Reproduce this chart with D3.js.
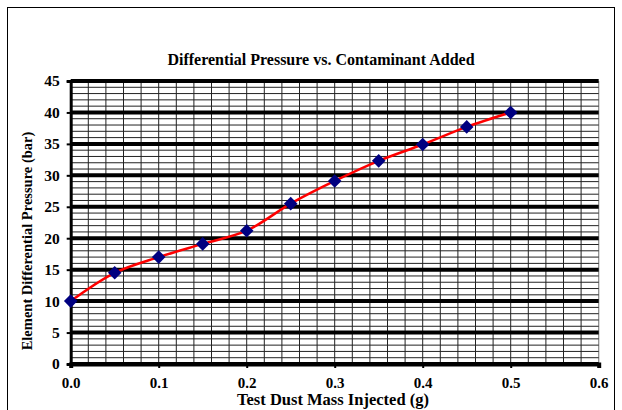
<!DOCTYPE html>
<html><head><meta charset="utf-8">
<script src="https://cdn.jsdelivr.net/npm/d3@7"></script>
<style>body{margin:0;background:#fff}svg{display:block}text{font-family:"Liberation Serif","Times New Roman",serif;font-weight:bold;fill:#000}</style>
</head><body><div id="c"></div>
<script>
const massInjected = [0, 0.05, 0.1, 0.15, 0.2, 0.25, 0.3, 0.35, 0.4, 0.45, 0.5];
const pressure = [10, 14.5, 17, 19.1, 21.2, 25.5, 29.1, 32.3, 34.9, 37.7, 40.0];
const xTicks = [0, 0.1, 0.2, 0.3, 0.4, 0.5, 0.6];
const yTicks = [0, 5, 10, 15, 20, 25, 30, 35, 40, 45];
const title = "Differential Pressure vs. Contaminant Added";
const xTitle = "Test Dust Mass Injected (g)";
const yTitle = "Element Differential Pressure (bar)";

const W = 622, H = 410;
const svg = d3.select("#c").append("svg").attr("width", W).attr("height", H);
svg.append("rect").attr("x", 7.5).attr("y", 7.5).attr("width", 607).attr("height", 420)
  .attr("fill", "#fff").attr("stroke", "#000").attr("stroke-width", 1);

const x = d3.scaleLinear().domain([0, 0.6]).range([70.7, 598.7]);
const y = d3.scaleLinear().domain([0, 45]).range([364, 81]);

const g = svg.append("g");
d3.range(1, 30).map(i => i * 0.02).forEach(v => {
  g.append("line").attr("x1", x(v)).attr("x2", x(v)).attr("y1", y(45)).attr("y2", y(0))
    .attr("stroke", "#222").attr("stroke-width", 1);
});
g.append("line").attr("x1", x(0.6)).attr("x2", x(0.6)).attr("y1", y(45)).attr("y2", y(0))
  .attr("stroke", "#888").attr("stroke-width", 1.2);
d3.range(1, 45).filter(v => v % 5 !== 0).forEach(v => {
  g.append("line").attr("x1", x(0)).attr("x2", x(0.6)).attr("y1", y(v)).attr("y2", y(v))
    .attr("stroke", "#222").attr("stroke-width", 1);
});
yTicks.forEach(v => {
  g.append("line").attr("x1", x(0)).attr("x2", x(0.6)).attr("y1", y(v)).attr("y2", y(v))
    .attr("stroke", "#000").attr("stroke-width", 4);
});
const yAxis = d3.axisLeft(y).tickValues(yTicks).tickSize(4).tickPadding(7).tickFormat(d3.format("d"));
const ya = svg.append("g").attr("transform", `translate(${x(0)},0)`).call(yAxis);
ya.select(".domain").attr("stroke", "#000").attr("stroke-width", 3);
ya.selectAll(".tick line").attr("stroke", "#000").attr("stroke-width", 2);
ya.selectAll("text").attr("font-size", 15.5).attr("font-family", "Liberation Serif").attr("font-weight", "bold").attr("fill", "#000");
const xAxis = d3.axisBottom(x).tickValues(xTicks).tickSize(4).tickPadding(9).tickFormat(d3.format(".1f"));
const xa = svg.append("g").attr("transform", `translate(0,${y(0)})`).call(xAxis);
xa.select(".domain").attr("stroke", "#000").attr("stroke-width", 4);
xa.selectAll(".tick line").attr("stroke", "#000").attr("stroke-width", 2);
xa.selectAll("text").attr("font-size", 15).attr("font-family", "Liberation Serif").attr("font-weight", "bold").attr("fill", "#000");

const data = massInjected.map((m, i) => [m, pressure[i]]);
svg.append("path").datum(data)
  .attr("d", d3.line().x(d => x(d[0])).y(d => y(d[1])).curve(d3.curveCatmullRom.alpha(0.5)))
  .attr("fill", "none").attr("stroke", "#ff0000").attr("stroke-width", 2.5);
svg.append("g").selectAll("path").data(data).join("path")
  .attr("transform", d => `translate(${x(d[0])},${y(d[1])}) rotate(45)`)
  .attr("d", "M-4.8,-4.8H4.8V4.8H-4.8Z")
  .attr("fill", "#000080");

svg.append("text").attr("x", 321).attr("y", 65).attr("text-anchor", "middle").attr("font-size", 16).text(title);
svg.append("text").attr("x", 333).attr("y", 405).attr("text-anchor", "middle").attr("font-size", 16.5).text(xTitle);
svg.append("text").attr("transform", "translate(32,241) rotate(-90)").attr("text-anchor", "middle").attr("font-size", 14.5).text(yTitle);
</script></body></html>
